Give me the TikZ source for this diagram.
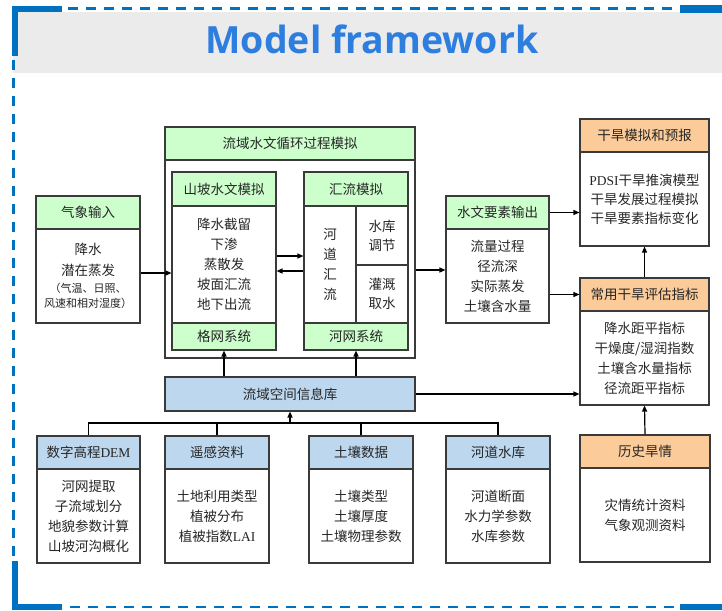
\documentclass[tikz,border=0pt]{standalone}
\usepackage{fontspec}
\setmainfont{Liberation Serif}
\newfontfamily\cjk{Noto Sans CJK SC}
\newfontfamily\latn{Liberation Serif}
\newfontfamily\ttlfont{Open Sans}
\usetikzlibrary{arrows.meta}
\definecolor{hdgreen}{HTML}{CCFFCC}
\definecolor{hdblue}{HTML}{BDD7EE}
\definecolor{hdorange}{HTML}{FBCB99}
\definecolor{bandgrey}{HTML}{EBEBEB}
\definecolor{rimblue}{HTML}{0070C0}
\definecolor{ttlblue}{HTML}{2E7EE0}
\definecolor{boxline}{HTML}{3A3A3A}
\newcommand\notesize{\fontsize{11}{15}\selectfont}
\tikzset{
  frm/.style={draw=boxline, line width=1.1pt, inner sep=0pt, align=center,
    font=\cjk\fontsize{13.5}{20}\selectfont, text=black!85},
  wh/.style 2 args={minimum width=#1pt, minimum height=#2pt},
  greenhd/.style={frm, fill=hdgreen},
  bluehd/.style={frm, fill=hdblue},
  orangehd/.style={frm, fill=hdorange},
  bodybox/.style={frm, fill=white},
  arr/.style={line width=1.2pt, -{Triangle[length=6pt,width=5pt]}},
  busline/.style={line width=1.2pt},
  rim/.style={rimblue, line width=6pt},
  rimdash/.style={rimblue, line width=2.6pt, dash pattern=on 10pt off 8pt},
}

\begin{document}
\begin{tikzpicture}[x=1pt,y=-1pt]
\useasboundingbox (0,0) rectangle (722,610);

%title band and blue rim
\fill[bandgrey] (13,12) rectangle (722,73);
\draw[rimdash] (68,8.5) -- (676,8.5);
\draw[rimdash] (13.5,60) -- (13.5,557);
\draw[rimdash] (70,607) -- (676,607);
\draw[rim] (11.5,9) -- (62,9);
\draw[rim] (14.5,6) -- (14.5,56);
\draw[rim] (14.5,561) -- (14.5,610);
\draw[rim] (11.5,607) -- (62,607);
\draw[rim, line width=8pt] (680,9) -- (722,9);
\draw[rim] (680,607) -- (722,607);
\node[font=\ttlfont\bfseries\fontsize{37.5}{40}\selectfont, text=ttlblue, anchor=base] (title) at (372,53) {Model framework};

%meteorological input
\node[greenhd, wh={104}{33}] (qxhead) at (88,212.5) {气象输入};
\node[bodybox, wh={104}{94}] (qxbody) at (88,276) {降水\\[1pt]潜在蒸发\\[-3pt]\notesize （气温、日照、\\[-5pt]\notesize 风速和相对湿度）};

%basin hydrological cycle
\node[greenhd, wh={250}{33}] (lyhead) at (290,143.5) {流域水文循环过程模拟};
\node[bodybox, wh={250}{198}] (lyframe) at (290,259) {};
%hillslope
\node[greenhd, wh={104}{34}] (sphead) at (224,189) {山坡水文模拟};
\node[bodybox, wh={104}{117}] (spbody) at (224,264.5) {降水截留\\下渗\\蒸散发\\坡面汇流\\地下出流};
\node[greenhd, wh={104}{27}] (spfoot) at (224,336.5) {格网系统};
%routing
\node[greenhd, wh={104}{34}] (hlhead) at (356,189) {汇流模拟};
\node[bodybox, wh={52}{117}] (hlleft) at (330,264.5) {河\\道\\汇\\流};
\node[bodybox, wh={52}{59}] (hlres) at (382,235.5) {水库\\[-1pt]调节};
\node[bodybox, wh={52}{58}] (hlirr) at (382,294) {灌溉\\[-1pt]取水};
\node[greenhd, wh={104}{27}] (hlfoot) at (356,336.5) {河网系统};

%hydrological output
\node[greenhd, wh={103}{33}] (swhead) at (497.5,212.5) {水文要素输出};
\node[bodybox, wh={103}{94}] (swbody) at (497.5,276) {流量过程\\径流深\\实际蒸发\\土壤含水量};

%drought simulation
\node[orangehd, wh={129}{33}] (ghhead) at (644.5,135.5) {干旱模拟和预报};
\node[bodybox, wh={129}{94}] (ghbody) at (644.5,199) {{\latn PDSI}干旱推演模型\\[-1pt]干旱发展过程模拟\\[-1pt]干旱要素指标变化};
\node[orangehd, wh={129}{33}] (cyhead) at (644.5,294.5) {常用干旱评估指标};
\node[bodybox, wh={129}{94}] (cybody) at (644.5,358) {降水距平指标\\干燥度/湿润指数\\土壤含水量指标\\径流距平指标};

%spatial database
\node[bluehd, wh={250}{34}] (lsku) at (290,394) {流域空间信息库};

%data sources
\node[bluehd, wh={103}{33}] (demhead) at (88.5,452.5) {数字高程{\latn DEM}};
\node[bodybox, wh={103}{94}] (dembody) at (88.5,516) {河网提取\\子流域划分\\地貌参数计算\\山坡河沟概化};
\node[bluehd, wh={104}{33}] (yghead) at (217,452.5) {遥感资料};
\node[bodybox, wh={104}{94}] (ygbody) at (217,516) {土地利用类型\\植被分布\\植被指数{\latn LAI}};
\node[bluehd, wh={104}{33}] (trhead) at (361,452.5) {土壤数据};
\node[bodybox, wh={104}{94}] (trbody) at (361,516) {土壤类型\\土壤厚度\\土壤物理参数};
\node[bluehd, wh={104}{33}] (hdhead) at (498,452.5) {河道水库};
\node[bodybox, wh={104}{94}] (hdbody) at (498,516) {河道断面\\水力学参数\\水库参数};
\node[orangehd, wh={130}{33}] (lshead) at (645,451.5) {历史旱情};
\node[bodybox, wh={130}{94}] (lsbody) at (645,515) {灾情统计资料\\气象观测资料};

%connectors
\draw[arr] (qxbody.east|-0,273) -- (spbody.west|-0,273);
\draw[arr] (spbody.east|-0,256) -- (hlleft.west|-0,256);
\draw[arr] (hlleft.west|-0,271) -- (spbody.east|-0,271);
\draw[arr] (lyframe.east|-0,270) -- (swbody.west|-0,270);
\draw[arr] (swhead.east) -- (ghbody.west|-swhead.east);
\draw[arr] (swbody.east|-cyhead.west) -- (cyhead.west);
\draw[arr] (cyhead.north) -- (ghbody.south);
\draw[arr] (lsku.east) -- (cybody.west|-lsku.east);
\draw[arr] (lsku.north-|spfoot.south) -- (spfoot.south);
\draw[arr] (lsku.north-|hlfoot.south) -- (hlfoot.south);
\draw[arr] (lshead.north) -- (cybody.south);
%data bus
\coordinate (bus) at (290,423);
\draw[busline] (demhead.north) |- (bus) -| (hdhead.north);
\draw[busline] (yghead.north) -- (yghead.north|-bus);
\draw[busline] (trhead.north) -- (trhead.north|-bus);
\draw[arr] (bus) -- (lsku.south);

\end{tikzpicture}
\end{document}
